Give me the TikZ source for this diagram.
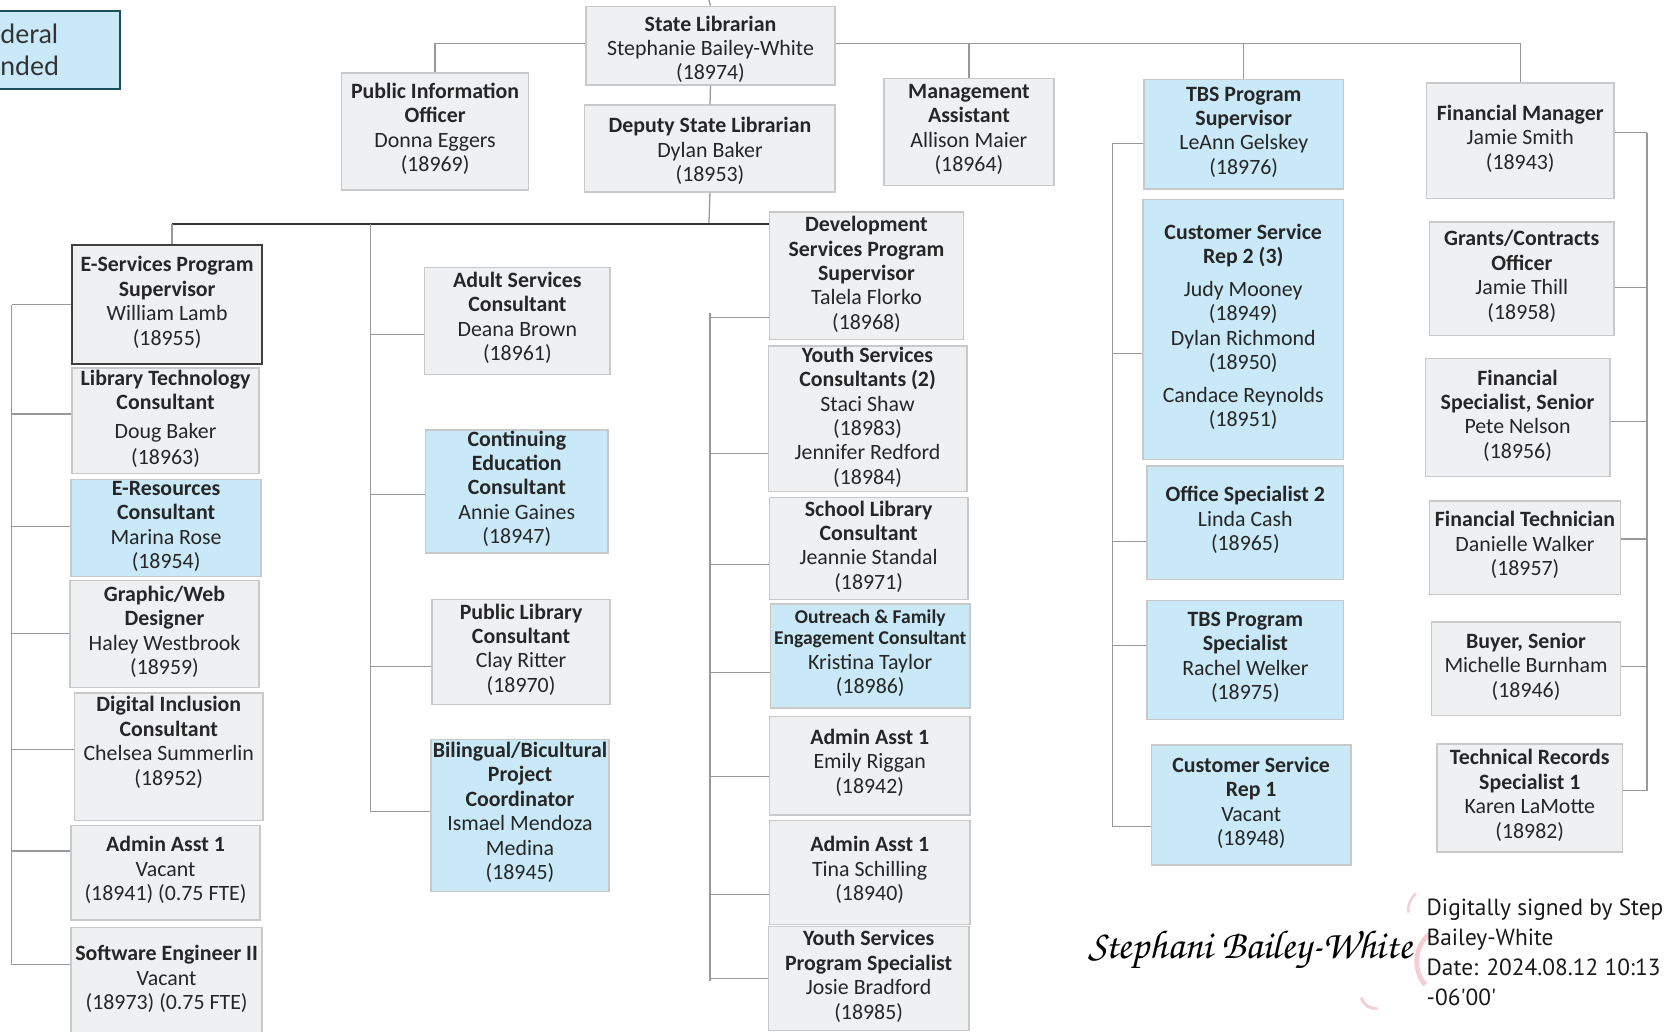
\documentclass[tikz,border=0pt]{standalone}
\usepackage{fontspec}
\setmainfont{Carlito}
\newfontfamily\legfont{Lato}
\newfontfamily\signfont{PT Sans}
\newfontfamily\handfont{texgyrechorus-mediumitalic}[Extension=.otf]
\definecolor{boxgray}{HTML}{EFF0F2}
\definecolor{boxblue}{HTML}{C9E9F8}
\definecolor{boxline}{HTML}{C9C9C9}
\definecolor{txtc}{HTML}{262626}
\definecolor{lineg}{HTML}{999999}
\definecolor{legline}{HTML}{1E4D5A}
\definecolor{pinkc}{HTML}{F6CDD5}
\newcommand\orgbox[8]{%
  \pgfmathsetmacro\bw{(#4-#2)*0.5}%
  \pgfmathsetmacro\bh{(#5-#3)*0.5}%
  \node[#6, minimum width=\bw pt, minimum height=\bh pt] (#1) at ({(#2+#4)/2},{(#3+#5)/2}) {};
  \node[txt] (#1-t) at ({(#2+#4)/2},{#7+2}) {#8};}
\newcommand\brW[3]{\draw[conn] (#1.west |- 0,#2) -- (#3 |- 0,#2);}
\newcommand\brE[3]{\draw[conn] (#1.east |- 0,#2) -- (#3 |- 0,#2);}
\begin{document}
\begin{tikzpicture}[x=0.5pt,y=-0.5pt,
  gbox/.style={draw=boxline, fill=boxgray, line width=0.7pt, inner sep=0pt},
  bbox/.style={gbox, fill=boxblue},
  kbox/.style={gbox, draw=black!75, line width=1pt},
  txt/.style={align=center, inner sep=0pt, text=txtc, font=\fontsize{10.3}{11.5}\selectfont},
  conn/.style={draw=lineg, line width=0.6pt},
  dconn/.style={draw=black!80, line width=0.6pt},
  legbox/.style={draw=legline, fill=boxblue, line width=1pt, inner sep=0pt},
  legtxt/.style={inner sep=0pt, text=black!80, font=\legfont\fontsize{12.5}{15}\selectfont},
  sigtxt/.style={inner sep=0pt, align=left, text=black!90, font=\signfont\fontsize{11}{14.2}\selectfont},
  hand/.style={inner sep=0pt, text=black, font=\handfont\fontsize{19}{22}\selectfont}
]
\useasboundingbox (0,0) rectangle (1568,972);
\fill[white] (0,0) rectangle (1568,972);

% legend
\node[legbox, minimum width=59pt, minimum height=37pt] (leg) at (54,47) {};
\node[legtxt, anchor=west] (leg1) at (0,32) {deral};
\node[legtxt, anchor=west] (leg2) at (0,62) {nded};

% top level
\orgbox{sl}{552}{6}{787}{80}{gbox}{44.5}{\textbf{State Librarian}\\Stephanie Bailey-White\\(18974)}
\orgbox{dep}{551}{99}{787}{181}{gbox}{140.5}{\textbf{Deputy State Librarian}\\Dylan Baker\\(18953)}
\orgbox{pio}{322}{69}{498}{179}{gbox}{119.5}{\textbf{Public Information}\\\textbf{Officer}\\Donna Eggers\\(18969)}
\orgbox{mgmt}{833}{74}{993}{175}{gbox}{120}{\textbf{Management}\\\textbf{Assistant}\\Allison Maier\\(18964)}
\orgbox{tbs}{1078}{75}{1266}{178}{bbox}{122.5}{\textbf{TBS Program}\\\textbf{Supervisor}\\LeAnn Gelskey\\(18976)}
\orgbox{fm}{1344}{78}{1521}{187}{gbox}{128.5}{\textbf{Financial Manager}\\Jamie Smith\\(18943)}

% column 1
\orgbox{esv}{68}{231}{247}{343}{kbox}{283}{\textbf{E-Services Program}\\\textbf{Supervisor}\\William Lamb\\(18955)}
\orgbox{ltc}{68}{347}{244}{446}{gbox}{392.5}{\textbf{Library Technology}\\\textbf{Consultant}\\[2pt]Doug Baker\\[1pt](18963)}
\orgbox{erc}{67}{452}{246}{543}{bbox}{494}{\textbf{E-Resources}\\\textbf{Consultant}\\Marina Rose\\(18954)}
\orgbox{gwd}{66}{547}{244}{648}{gbox}{593.5}{\textbf{Graphic/Web}\\\textbf{Designer}\\Haley Westbrook\\(18959)}
\orgbox{dic}{70}{653}{248}{773}{gbox}{697.5}{\textbf{Digital Inclusion}\\\textbf{Consultant}\\Chelsea Summerlin\\(18952)}
\orgbox{aa1}{67}{778}{245}{867}{gbox}{818}{\textbf{Admin Asst 1}\\Vacant\\(18941) (0.75 FTE)}
\orgbox{swe}{67}{874}{247}{976}{gbox}{920.5}{\textbf{Software Engineer II}\\Vacant\\(18973) (0.75 FTE)}

% column 2
\orgbox{asc}{400}{252}{575}{353}{gbox}{297.5}{\textbf{Adult Services}\\\textbf{Consultant}\\Deana Brown\\(18961)}
\orgbox{cec}{401}{405}{573}{521}{bbox}{458.5}{\textbf{Continuing}\\\textbf{Education}\\\textbf{Consultant}\\Annie Gaines\\(18947)}
\orgbox{plc}{407}{565}{575}{664}{gbox}{610}{\textbf{Public Library}\\\textbf{Consultant}\\Clay Ritter\\(18970)}
\orgbox{bbp}{406}{697}{574}{840}{bbox}{763.5}{\textbf{Bilingual/Bicultural}\\\textbf{Project}\\\textbf{Coordinator}\\Ismael Mendoza\\Medina\\(18945)}

% column 3
\orgbox{dev}{725}{200}{908}{320}{gbox}{256.5}{\textbf{Development}\\\textbf{Services Program}\\\textbf{Supervisor}\\Talela Florko\\(18968)}
\orgbox{ysc}{724}{326}{911}{463}{gbox}{391}{\textbf{Youth Services}\\\textbf{Consultants (2)}\\Staci Shaw\\(18983)\\Jennifer Redford\\(18984)}
\orgbox{slc}{725}{469}{912}{565}{gbox}{513}{\textbf{School Library}\\\textbf{Consultant}\\Jeannie Standal\\(18971)}
\orgbox{ofe}{726}{569}{914}{667}{bbox}{613.5}{{\fontsize{9.2}{10}\selectfont\textbf{Outreach \& Family}}\\[-1.5pt]{\fontsize{9.2}{10}\selectfont\textbf{Engagement Consultant}}\\Kristina Taylor\\(18986)}
\orgbox{aae}{725}{675}{914}{768}{gbox}{716.5}{\textbf{Admin Asst 1}\\Emily Riggan\\(18942)}
\orgbox{aat}{725}{773}{914}{871}{gbox}{818}{\textbf{Admin Asst 1}\\Tina Schilling\\(18940)}
\orgbox{ysp}{724}{873}{913}{971}{gbox}{918}{\textbf{Youth Services}\\\textbf{Program Specialist}\\Josie Bradford\\(18985)}

% column 4
\orgbox{csr2}{1077}{188}{1266}{433}{bbox}{306}{\textbf{Customer Service}\\\textbf{Rep 2 (3)}\\[4pt]Judy Mooney\\(18949)\\Dylan Richmond\\(18950)\\[4pt]Candace Reynolds\\(18951)}
\orgbox{ofs}{1081}{439}{1266}{546}{bbox}{488}{\textbf{Office Specialist 2}\\Linda Cash\\(18965)}
\orgbox{tps}{1081}{566}{1266}{678}{bbox}{617.5}{\textbf{TBS Program}\\\textbf{Specialist}\\Rachel Welker\\(18975)}
\orgbox{csr1}{1085}{702}{1273}{815}{bbox}{754.5}{\textbf{Customer Service}\\\textbf{Rep 1}\\Vacant\\(18948)}

% column 5
\orgbox{gco}{1347}{209}{1521}{316}{gbox}{258.5}{\textbf{Grants/Contracts}\\\textbf{Officer}\\Jamie Thill\\(18958)}
\orgbox{fss}{1343}{338}{1517}{449}{gbox}{389.5}{\textbf{Financial}\\\textbf{Specialist, Senior}\\Pete Nelson\\(18956)}
\orgbox{ftc}{1347}{472}{1527}{560}{gbox}{511.5}{\textbf{Financial Technician}\\Danielle Walker\\(18957)}
\orgbox{bys}{1349}{586}{1527}{674}{gbox}{626}{\textbf{Buyer, Senior}\\Michelle Burnham\\(18946)}
\orgbox{trs}{1354}{701}{1529}{803}{gbox}{747.5}{\textbf{Technical Records}\\\textbf{Specialist 1}\\Karen LaMotte\\(18982)}

% ---- connectors ----
\coordinate (top) at (668,0);
\coordinate (bar0) at (0,41);
\draw[conn] (sl.north) -- (top);
\draw[conn] (sl.south) -- (dep.north);
\draw[conn] (pio.north) |- (sl.west |- bar0);
\draw[conn] (sl.east |- bar0) -| (fm.north);
\draw[conn] (mgmt.north) -- (mgmt.north |- bar0);
\draw[conn] (tbs.north) -- (tbs.north |- bar0);

\coordinate (hb) at (668,211);
\coordinate (e1) at (162,211);
\draw[conn] (dep.south) -- (hb);
\draw[dconn] (e1) -- (dev.west |- hb);
\draw[conn] (esv.north -| e1) -- (e1);

% column 1 bar
\coordinate (b1t) at (11,287);
\coordinate (b1b) at (11,909);
\draw[conn] (b1t) -- (b1b);
\brW{esv}{287}{b1t}
\brW{ltc}{390}{b1t}
\brW{erc}{496}{b1t}
\brW{gwd}{597}{b1t}
\brW{dic}{706}{b1t}
\brW{aa1}{802}{b1t}
\brW{swe}{909}{b1t}

% column 2 bar
\coordinate (b2t) at (349,211);
\coordinate (b2b) at (349,765);
\draw[conn] (b2t) -- (b2b);
\brW{asc}{315}{b2t}
\brW{cec}{466}{b2t}
\brW{plc}{628}{b2t}
\brW{bbp}{765}{b2t}

% column 3 bar
\coordinate (b3t) at (669,295);
\coordinate (b3b) at (669,924);
\draw[conn] (b3t) -- (b3b);
\brW{dev}{299}{b3t}
\brW{ysc}{427}{b3t}
\brW{slc}{532}{b3t}
\brW{ofe}{634}{b3t}
\brW{aae}{732}{b3t}
\brW{aat}{843}{b3t}
\brW{ysp}{922}{b3t}

% column 4 bar
\coordinate (b4t) at (1048,135);
\coordinate (b4b) at (1048,779);
\draw[conn] (b4t) -- (b4b);
\brW{tbs}{135}{b4t}
\brW{csr2}{333}{b4t}
\brW{ofs}{510}{b4t}
\brW{tps}{608}{b4t}
\brW{csr1}{779}{b4t}

% column 5 bar
\coordinate (b5t) at (1552,125);
\coordinate (b5b) at (1552,745);
\draw[conn] (b5t) -- (b5b);
\brE{fm}{125}{b5t}
\brE{gco}{271}{b5t}
\brE{fss}{397}{b5t}
\brE{ftc}{508}{b5t}
\brE{bys}{628}{b5t}
\brE{trs}{745}{b5t}

% ---- signature ----
\draw[pinkc, line width=1.2pt] (1327,860) to[bend left=25] (1334,842);
\draw[pinkc, line width=2.2pt] (1347,880) to[bend right=45] (1343,928);
\draw[pinkc, line width=1.4pt] (1283,940) to[bend right=45] (1298,950);
\node[hand] (sig) at (1178,895) {Stephani Bailey-White};
\node[sigtxt, anchor=west] (dsig) at (1344,897.5) {Digitally signed by Step\\Bailey-White\\Date: 2024.08.12 10:13\\-06'00'};
\end{tikzpicture}
\end{document}
